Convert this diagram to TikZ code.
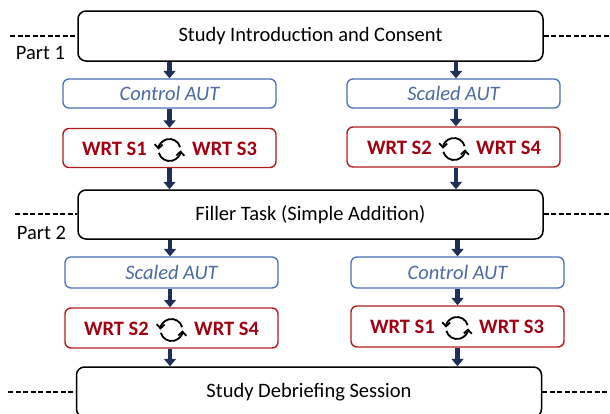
\documentclass[tikz,border=0pt]{standalone}
\usepackage{fontspec}
\setmainfont{Carlito}
\usetikzlibrary{arrows.meta}
\definecolor{navy}{HTML}{1F2F55}
\definecolor{bluebox}{HTML}{4A6FB5}
\definecolor{bluetxt}{HTML}{4A6AA0}
\definecolor{redbox}{HTML}{B01C1C}
\definecolor{redtxt}{HTML}{A00012}
\begin{document}
\begin{tikzpicture}[x=1pt,y=-1pt,
  mainbox/.style={draw=black,line width=1.5pt,rounded corners=8pt,minimum width=465pt,minimum height=50pt,inner sep=0pt,font=\fontsize{20.5}{24}\selectfont},
  autbox/.style={draw=bluebox,line width=1.3pt,rounded corners=6pt,minimum width=213pt,minimum height=30pt,inner sep=0pt,text=bluetxt,font=\fontsize{20.5}{24}\selectfont\itshape},
  wrtbox/.style={draw=redbox,line width=1.4pt,rounded corners=6pt,minimum width=213pt,minimum height=40pt,inner sep=0pt},
  wrt/.style={text=redtxt,font=\fontsize{20.5}{24}\selectfont\bfseries,inner sep=0pt},
  parttxt/.style={font=\fontsize{20.5}{24}\selectfont,inner sep=0pt},
  arr/.style={draw=navy,line width=4.5pt,-{Triangle[width=12pt,length=7.5pt]}},
  dashln/.style={draw=black,line width=1.1pt,dash pattern=on 5pt off 2.5pt},
  syncarr/.style={draw=black,line width=1.8pt,-{Straight Barb[length=4pt,width=8pt]}}]
\useasboundingbox (0,0) rectangle (610,413);
\clip (0,0) rectangle (610,413);
% main boxes
\node[mainbox] (intro) at (310.5,36) {Study Introduction and Consent};
\node[mainbox,minimum height=49pt] (filler) at (310.5,214.5) {Filler Task (Simple Addition)};
\node[mainbox] (debrief) at (309,392) {Study Debriefing Session};
% part 1 boxes
\node[autbox,minimum height=29pt] (ctrlA) at (169.5,93.5) {Control AUT};
\node[autbox,minimum height=29pt] (scalA) at (453.5,93.5) {Scaled AUT};
\node[wrtbox,minimum height=39pt] (wrtA) at (169.5,148) {};
\node[wrtbox] (wrtB) at (453.5,147) {};
% part 2 boxes
\node[autbox,minimum height=31pt] (scalC) at (171.5,272.5) {Scaled AUT};
\node[autbox,minimum height=31pt] (ctrlD) at (457.5,272.5) {Control AUT};
\node[wrtbox] (wrtC) at (171.5,328) {};
\node[wrtbox,minimum height=41pt] (wrtD) at (457.5,326.5) {};
% WRT texts
\node[wrt,anchor=east] (a1) at (147,149) {WRT S1};
\node[wrt,anchor=west] (a3) at (192,149) {WRT S3};
\node[wrt,anchor=east] (b2) at (432,148) {WRT S2};
\node[wrt,anchor=west] (b4) at (476,148) {WRT S4};
\node[wrt,anchor=east] (c2) at (149,329) {WRT S2};
\node[wrt,anchor=west] (c4) at (194,329) {WRT S4};
\node[wrt,anchor=east] (d1) at (435,327) {WRT S1};
\node[wrt,anchor=west] (d3) at (479,327) {WRT S3};
% sync icons
\foreach \n/\cx/\cy in {sA/169.5/150, sB/454/149, sC/171.5/330, sD/457/328}{
  \coordinate (\n) at (\cx,\cy);
  \draw[syncarr] (\n) ++(15:11pt) arc[start angle=15,end angle=178,radius=11pt];
  \draw[syncarr] (\n) ++(195:11pt) arc[start angle=195,end angle=358,radius=11pt];
}
% arrows
\draw[arr] (ctrlA.north |- intro.south) -- (ctrlA.north);
\draw[arr] (ctrlA.south) -- (wrtA.north);
\draw[arr] (wrtA.south) -- (wrtA.south |- filler.north);
\draw[arr] ([xshift=2.5pt]scalA.north |- intro.south) -- ([xshift=2.5pt]scalA.north);
\draw[arr] ([xshift=2.5pt]scalA.south) -- ([xshift=2.5pt]wrtB.north);
\draw[arr] ([xshift=2.5pt]wrtB.south) -- ([xshift=2.5pt]wrtB.south |- filler.north);
\draw[arr] ([xshift=-1.5pt]scalC.north |- filler.south) -- ([xshift=-1.5pt]scalC.north);
\draw[arr] ([xshift=-1.5pt]scalC.south) -- ([xshift=-1.5pt]wrtC.north);
\draw[arr] ([xshift=-1.5pt]wrtC.south) -- ([xshift=-1.5pt]wrtC.south |- debrief.north);
\draw[arr] (ctrlD.north |- filler.south) -- (ctrlD.north);
\draw[arr] (ctrlD.south) -- (wrtD.north);
\draw[arr] (wrtD.south) -- (wrtD.south |- debrief.north);
% dashed part lines
\coordinate (l1) at (10,36);
\coordinate (r1) at (610,36);
\coordinate (l2) at (15,214);
\coordinate (r2) at (610,214);
\coordinate (l3) at (8,392);
\coordinate (r3) at (610,392);
\draw[dashln] (l1) -- (l1 -| intro.west);
\draw[dashln] (intro.east |- r1) -- (r1);
\draw[dashln] (l2) -- (l2 -| filler.west);
\draw[dashln] (filler.east |- r2) -- (r2);
\draw[dashln] (l3) -- (l3 -| debrief.west);
\draw[dashln] (debrief.east |- r3) -- (r3);
% part labels
\node[parttxt] (p1) at (40.5,52.5) {Part 1};
\node[parttxt] (p2) at (41.5,232.5) {Part 2};
\end{tikzpicture}
\end{document}
